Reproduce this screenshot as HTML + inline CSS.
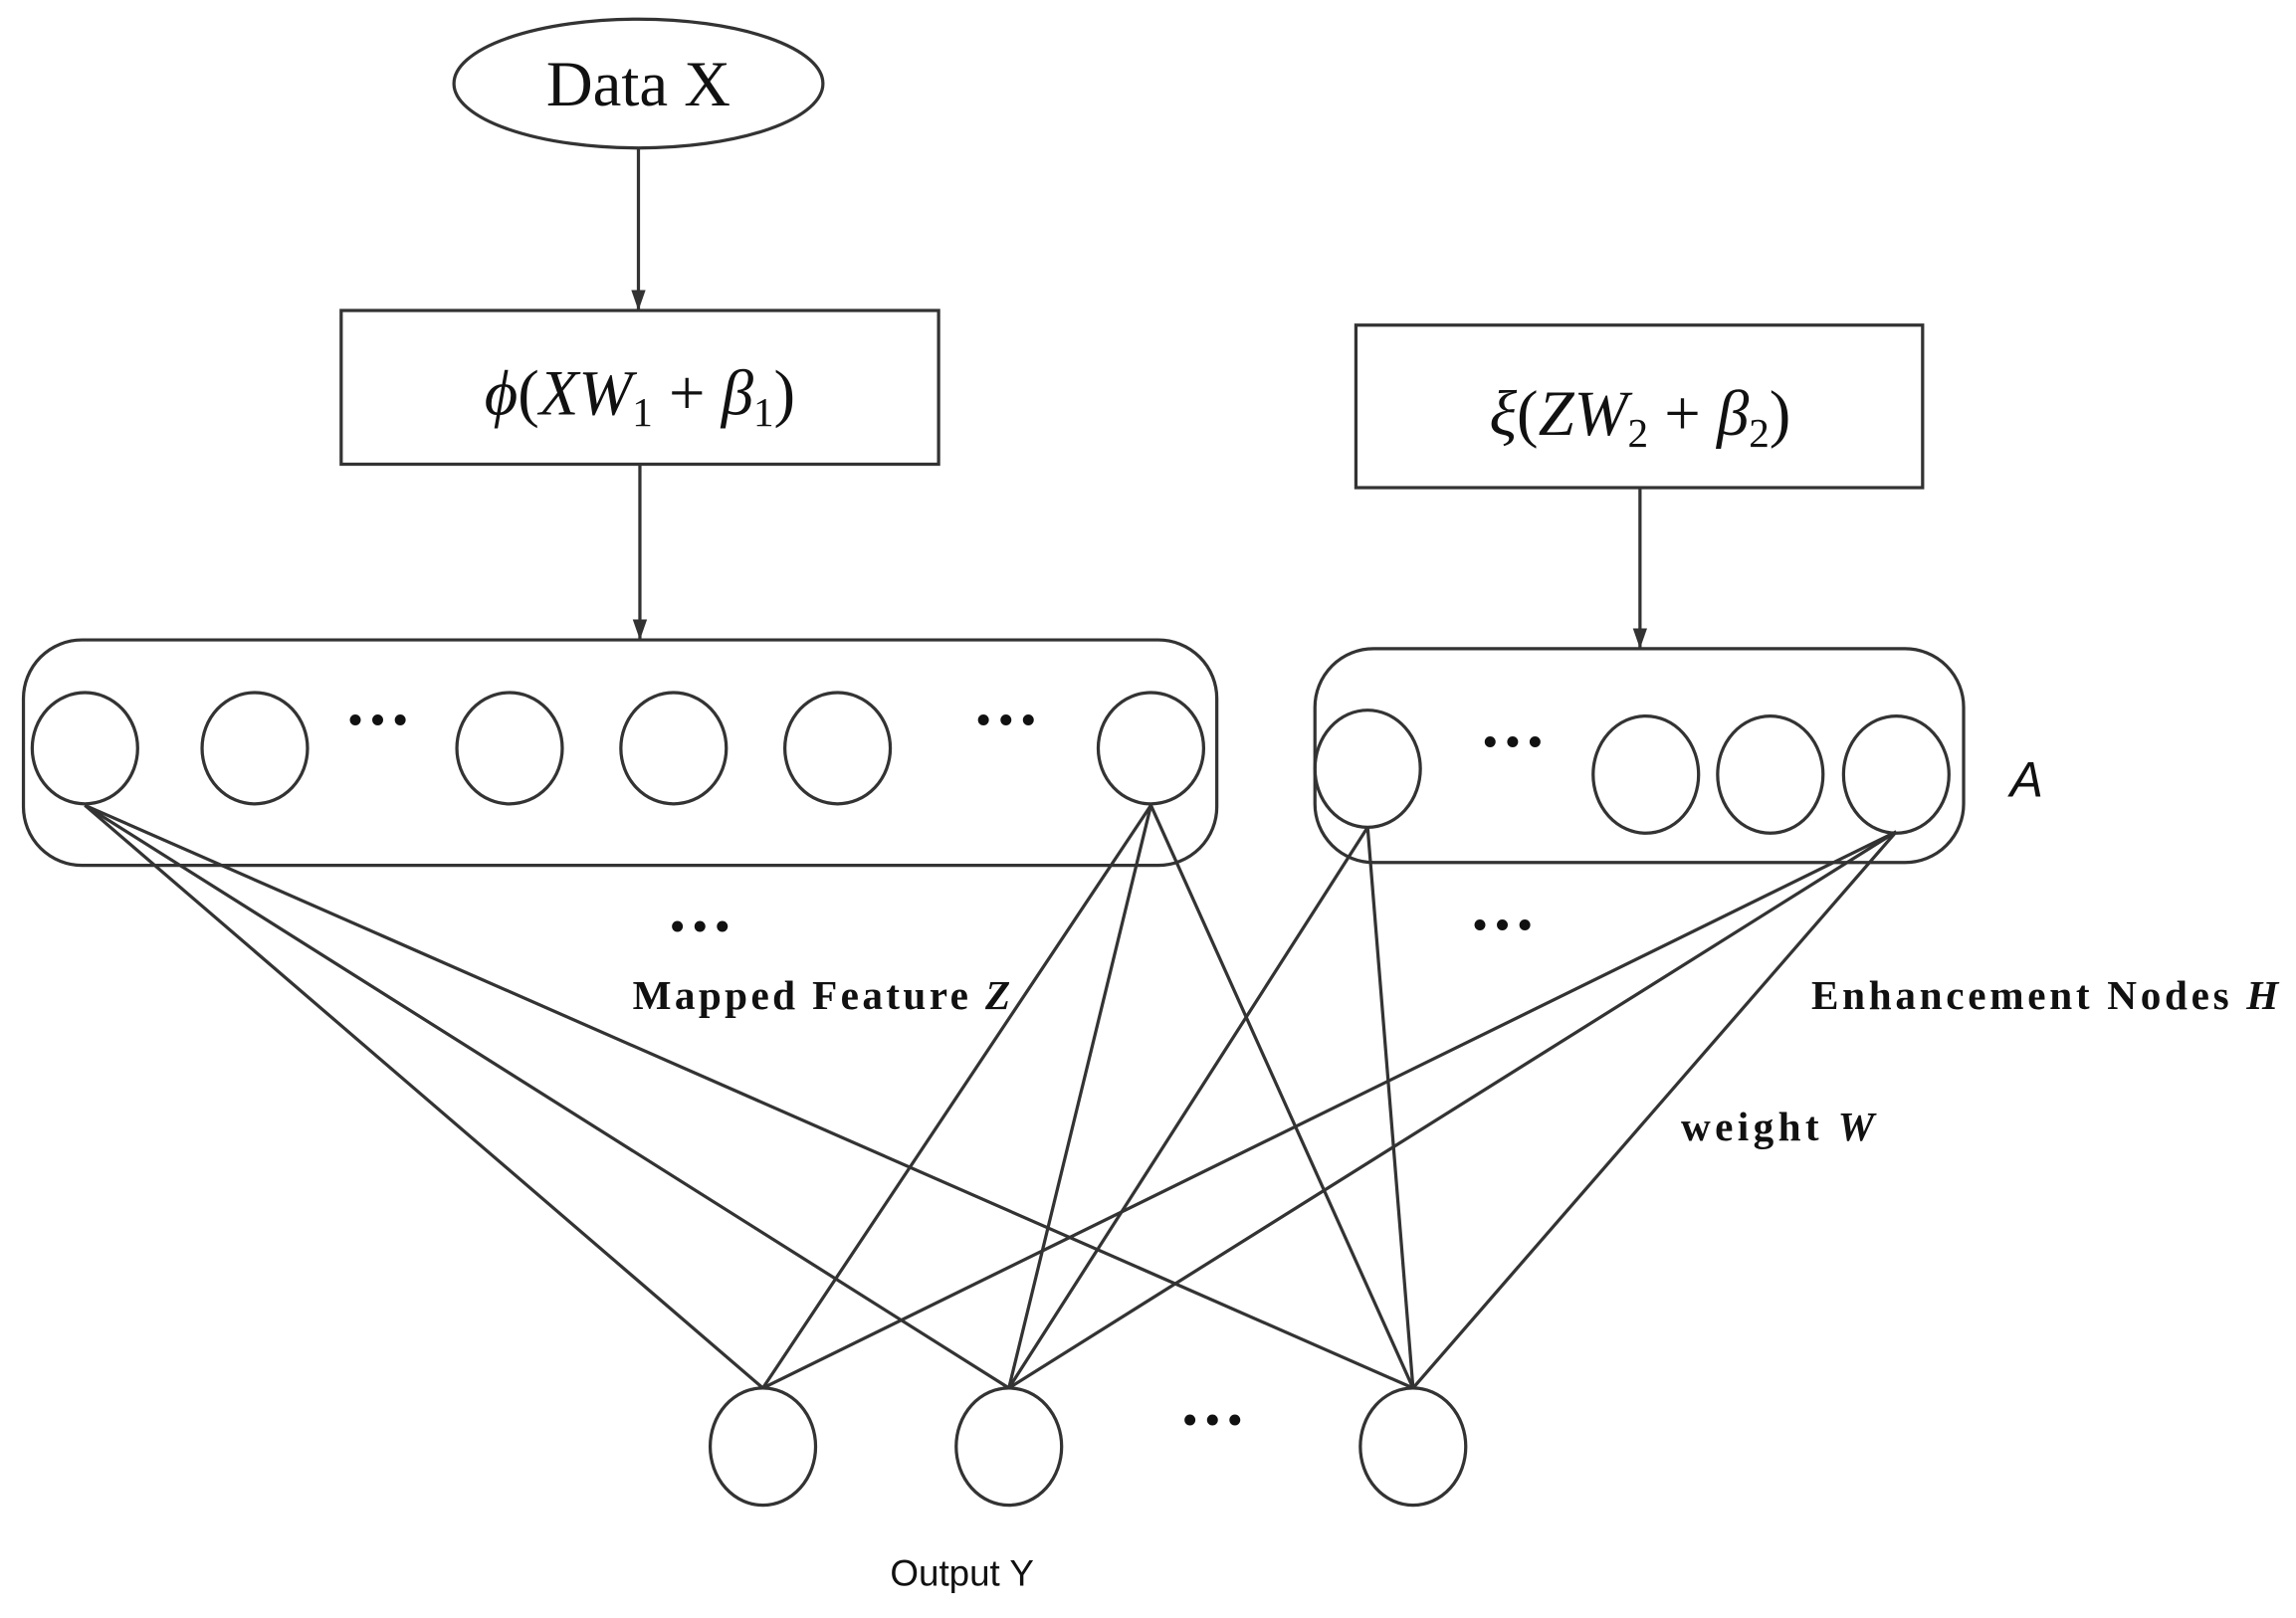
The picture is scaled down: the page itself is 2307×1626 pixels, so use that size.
<!DOCTYPE html>
<html><head><meta charset="utf-8"><style>
html,body{margin:0;padding:0;background:#fff;}
svg{display:block;}
</style></head><body>
<svg width="2307" height="1626" viewBox="0 0 1568 1105" xmlns="http://www.w3.org/2000/svg">
<defs>
<marker id="ar" markerWidth="14" markerHeight="22" refX="20" refY="7" orient="auto" markerUnits="userSpaceOnUse" viewBox="0 0 20 14">
<path d="M0,0 L20,7 L0,14 Z" fill="#333"/>
</marker>
</defs>
<g fill="none" stroke="#333" stroke-width="2.2">
<ellipse cx="436" cy="57" rx="126" ry="44"/>
<line x1="436" y1="101" x2="436" y2="212" marker-end="url(#ar)"/>
<rect x="233" y="212" width="408" height="105"/>
<line x1="437" y1="317" x2="437" y2="437" marker-end="url(#ar)"/>
<rect x="16" y="437" width="815" height="154" rx="40"/>
<ellipse cx="58" cy="511" rx="36" ry="38"/>
<ellipse cx="174" cy="511" rx="36" ry="38"/>
<ellipse cx="348" cy="511" rx="36" ry="38"/>
<ellipse cx="460" cy="511" rx="36" ry="38"/>
<ellipse cx="572" cy="511" rx="36" ry="38"/>
<ellipse cx="786" cy="511" rx="36" ry="38"/>
<rect x="926" y="222" width="387" height="111"/>
<line x1="1120" y1="333" x2="1120" y2="443" marker-end="url(#ar)"/>
<rect x="898" y="443" width="443" height="146" rx="40"/>
<ellipse cx="934" cy="525" rx="36" ry="40"/>
<ellipse cx="1124" cy="529" rx="36" ry="40"/>
<ellipse cx="1209" cy="529" rx="36" ry="40"/>
<ellipse cx="1295" cy="529" rx="36" ry="40"/>
<ellipse cx="521" cy="988" rx="36" ry="40"/>
<ellipse cx="689" cy="988" rx="36" ry="40"/>
<ellipse cx="965" cy="988" rx="36" ry="40"/>
<line x1="58" y1="550" x2="521" y2="948"/>
<line x1="58" y1="550" x2="689" y2="948"/>
<line x1="58" y1="550" x2="965" y2="948"/>
<line x1="786" y1="550" x2="521" y2="948"/>
<line x1="786" y1="550" x2="689" y2="948"/>
<line x1="786" y1="550" x2="965" y2="948"/>
<line x1="934" y1="565" x2="689" y2="948"/>
<line x1="934" y1="565" x2="965" y2="948"/>
<line x1="1295" y1="568" x2="521" y2="948"/>
<line x1="1295" y1="568" x2="689" y2="948"/>
<line x1="1295" y1="568" x2="965" y2="948"/>
</g>
<g font-family="Liberation Serif, serif" fill="#111">
<text x="436" y="72" font-size="44" text-anchor="middle">Data X</text>
<text x="437" y="283" font-size="44" text-anchor="middle"><tspan font-style="italic">ϕ</tspan>(<tspan font-style="italic">XW</tspan><tspan font-size="28" dy="8">1</tspan><tspan dy="-8"> + </tspan><tspan font-style="italic">β</tspan><tspan font-size="28" dy="8">1</tspan><tspan dy="-8">)</tspan></text>
<text x="1120" y="297" font-size="44" text-anchor="middle"><tspan font-style="italic">ξ</tspan>(<tspan font-style="italic">ZW</tspan><tspan font-size="28" dy="8">2</tspan><tspan dy="-8"> + </tspan><tspan font-style="italic">β</tspan><tspan font-size="28" dy="8">2</tspan><tspan dy="-8">)</tspan></text>
<text x="1384" y="544" font-size="34" font-style="italic" font-family="Liberation Sans, sans-serif" text-anchor="middle">A</text>
<g font-size="46" font-weight="bold" text-anchor="middle">
<text x="258" y="507">···</text>
<text x="687" y="507">···</text>
<text x="1033" y="522">···</text>
<text x="478" y="648">···</text>
<text x="1026" y="647">···</text>
<text x="828" y="985">···</text>
</g>
<g font-size="28" font-weight="bold">
<text x="432" y="689" textLength="258" lengthAdjust="spacing">Mapped Feature <tspan font-style="italic">Z</tspan></text>
<text x="1237" y="689" textLength="319" lengthAdjust="spacing">Enhancement Nodes <tspan font-style="italic">H</tspan></text>
<text x="1148" y="779" textLength="132" lengthAdjust="spacing">weight <tspan font-style="italic">W</tspan></text>
</g>
<text x="657" y="1083" font-size="25" font-family="Liberation Sans, sans-serif" text-anchor="middle">Output Y</text>
</g>
</svg>
</body></html>
